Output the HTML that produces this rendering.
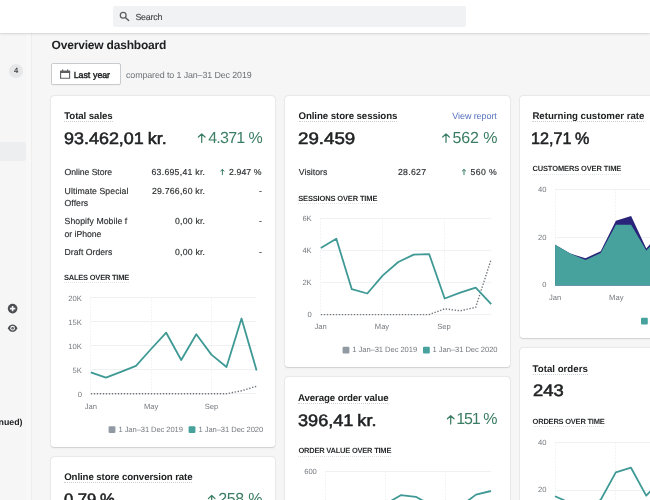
<!DOCTYPE html>
<html><head><meta charset="utf-8"><title>Overview dashboard</title>
<style>
html,body{margin:0;padding:0}
body{width:650px;height:500px;overflow:hidden;position:relative;background:#f6f6f7;font-family:"Liberation Sans",sans-serif;color:#202223}
.top{position:absolute;left:0;top:0;width:650px;height:33px;background:#fff;box-shadow:0 0 0 .5px rgba(63,63,68,.06),0 .5px 2px rgba(63,63,68,.16)}
.search{position:absolute;left:113px;top:5.5px;width:352.5px;height:21px;background:#f1f2f3;border-radius:2px}
.side{position:absolute;left:0;top:33px;width:31px;height:467px;background:#f6f6f7;border-right:1px solid #eeeeef}
.sel{position:absolute;left:0;top:108.6px;width:25.6px;height:19px;background:#edeeef;border-radius:0 2px 2px 0}
.bdg{position:absolute;left:9.2px;top:64.3px;width:14.2px;height:14px;border-radius:7.1px;background:#e6e7e8}
.card{position:absolute;background:#fff;border-radius:3px;box-shadow:0 0 0 .5px rgba(63,63,68,.07),0 .5px 1.5px rgba(63,63,68,.18)}
.button{position:absolute;left:51.2px;top:63.4px;width:68px;height:19.3px;background:#fff;border:1px solid #c9cccf;border-radius:2px;box-shadow:0 .5px 0 rgba(0,0,0,.06)}
svg{position:absolute;left:0;top:0}
.txt{position:absolute;left:0;top:0;width:650px;height:500px;will-change:transform}
.t{position:absolute;white-space:nowrap;line-height:14px;text-rendering:geometricPrecision}
.srch{font-size:8.9px;font-weight:400;word-spacing:0px;color:#45484b;-webkit-text-stroke:.15px #45484b}
.title{font-size:12.0px;font-weight:700;word-spacing:0px}
.btn{font-size:8.9px;font-weight:400;word-spacing:0.7px;-webkit-text-stroke:.4px #202223}
.cmp{font-size:8.9px;font-weight:400;word-spacing:0px;color:#6d7175}
.nav{font-size:8.8px;font-weight:700;word-spacing:0px;color:#202223}
.badge{font-size:7.6px;font-weight:700;word-spacing:0px;color:#44474a}
.h{font-size:9.7px;font-weight:700;word-spacing:0px}
.h:after{content:"";position:absolute;left:0;right:0;top:11.5px;border-bottom:.6px dotted #cdd0d3}
.big{font-size:16.6px;font-weight:400;word-spacing:-1px;-webkit-text-stroke:.55px #202223}
.pct{font-size:16.0px;font-weight:400;word-spacing:0.3px;color:#3b7d64}
.r{font-size:8.7px;font-weight:400;word-spacing:0px;color:#2c2e30;-webkit-text-stroke:.15px #2c2e30}
.cap{font-size:7.5px;font-weight:700;word-spacing:0px;color:#2a2c2e}
.cap:after{content:"";position:absolute;left:0;right:0;top:11.6px;border-bottom:.5px dotted #e2e4e6}
.ax{font-size:7.6px;font-weight:400;word-spacing:0px;color:#74797e}
.link{font-size:9.0px;font-weight:400;word-spacing:0px;color:#5570bf}
</style></head>
<body>
<div class="side"><div class="sel"></div><div style="position:absolute;left:25.6px;top:0;width:5.4px;height:467px;background:#f8f8f9"></div></div>
<div class="bdg"></div>
<div class="top"><div class="search"></div></div>
<div class="button"></div>
<div class="card" style="left:51.4px;top:95.5px;width:224px;height:351px"></div>
<div class="card" style="left:285.4px;top:95.5px;width:225px;height:271.6px"></div>
<div class="card" style="left:520.2px;top:95.5px;width:140px;height:242.4px"></div>
<div class="card" style="left:285.4px;top:376.8px;width:225px;height:140px"></div>
<div class="card" style="left:520.2px;top:347.5px;width:140px;height:170px"></div>
<div class="card" style="left:51.4px;top:456.6px;width:224px;height:60px"></div>
<svg width="650" height="500" viewBox="0 0 650 500">
<line x1="90.8" y1="297.5" x2="256.6" y2="297.5" stroke="#f0f1f2" stroke-width="1"/>
<line x1="90.8" y1="321.5" x2="256.6" y2="321.5" stroke="#f0f1f2" stroke-width="1"/>
<line x1="90.8" y1="345.5" x2="256.6" y2="345.5" stroke="#f0f1f2" stroke-width="1"/>
<line x1="90.8" y1="369.5" x2="256.6" y2="369.5" stroke="#f0f1f2" stroke-width="1"/>
<line x1="90.8" y1="393.5" x2="256.6" y2="393.5" stroke="#f0f1f2" stroke-width="1"/>
<line x1="90.5" y1="297.5" x2="90.5" y2="393.5" stroke="#f0f1f2" stroke-width="1" stroke-dasharray="1.5 1.5"/>
<line x1="151.5" y1="297.5" x2="151.5" y2="393.5" stroke="#f0f1f2" stroke-width="1" stroke-dasharray="1.5 1.5"/>
<line x1="211.5" y1="297.5" x2="211.5" y2="393.5" stroke="#f0f1f2" stroke-width="1" stroke-dasharray="1.5 1.5"/>
<polyline points="90.8,393.8 105.9,393.8 120.9,393.8 136.0,393.8 151.1,393.8 166.2,393.8 181.2,393.8 196.3,393.8 211.4,393.8 226.5,393.8 241.5,390.8 256.6,386.2" fill="none" stroke="#73787e" stroke-width="1.4" stroke-dasharray="1.4 1.6"/>
<polyline points="90.8,372.3 105.9,377.7 120.9,371.8 136.0,365.8 151.1,349.0 166.2,332.7 181.2,360.0 196.3,334.2 211.4,354.6 226.5,367.0 241.5,318.5 256.6,370.4" fill="none" stroke="#3f9995" stroke-width="1.8" stroke-linejoin="round" stroke-linecap="butt"/>
<line x1="320.8" y1="218.5" x2="491.2" y2="218.5" stroke="#f0f1f2" stroke-width="1"/>
<line x1="320.8" y1="250.5" x2="491.2" y2="250.5" stroke="#f0f1f2" stroke-width="1"/>
<line x1="320.8" y1="282.5" x2="491.2" y2="282.5" stroke="#f0f1f2" stroke-width="1"/>
<line x1="320.8" y1="314.5" x2="491.2" y2="314.5" stroke="#f0f1f2" stroke-width="1"/>
<line x1="320.5" y1="218.5" x2="320.5" y2="314.5" stroke="#f0f1f2" stroke-width="1" stroke-dasharray="1.5 1.5"/>
<line x1="382.5" y1="218.5" x2="382.5" y2="314.5" stroke="#f0f1f2" stroke-width="1" stroke-dasharray="1.5 1.5"/>
<line x1="444.5" y1="218.5" x2="444.5" y2="314.5" stroke="#f0f1f2" stroke-width="1" stroke-dasharray="1.5 1.5"/>
<polyline points="320.8,314.6 336.3,314.6 351.8,314.6 367.3,314.6 382.8,314.6 398.3,314.6 413.7,314.6 429.2,314.6 444.7,308.8 460.2,310.8 475.7,307.3 491.2,259.2" fill="none" stroke="#73787e" stroke-width="1.4" stroke-dasharray="1.4 1.6"/>
<polyline points="320.8,248.0 336.3,238.8 351.8,289.2 367.3,293.5 382.8,275.4 398.3,262.0 413.7,254.6 429.2,254.2 444.7,298.5 460.2,292.7 475.7,287.7 491.2,304.2" fill="none" stroke="#3f9995" stroke-width="1.8" stroke-linejoin="round" stroke-linecap="butt"/>
<line x1="555.1" y1="189.5" x2="660" y2="189.5" stroke="#f0f1f2" stroke-width="1"/>
<line x1="555.1" y1="237.5" x2="660" y2="237.5" stroke="#f0f1f2" stroke-width="1"/>
<line x1="555.1" y1="285.5" x2="660" y2="285.5" stroke="#f0f1f2" stroke-width="1"/>
<line x1="555.5" y1="189.5" x2="555.5" y2="285.5" stroke="#f0f1f2" stroke-width="1" stroke-dasharray="1.5 1.5"/>
<line x1="615.5" y1="189.5" x2="615.5" y2="285.5" stroke="#f0f1f2" stroke-width="1" stroke-dasharray="1.5 1.5"/>
<polygon points="555.1,244.7 570.3,253.6 585.5,258.2 600.7,251.2 615.9,220.8 631.1,216.0 646.3,248.4 661.5,231.0 661.5,285.5 555.1,285.5" fill="#29247a"/>
<polygon points="555.1,244.7 570.3,253.6 585.5,259.9 600.7,253.0 615.9,224.8 631.1,224.8 646.3,250.6 661.5,235.0 661.5,285.5 555.1,285.5" fill="#47a19d"/>
<line x1="325.6" y1="471.5" x2="491.0" y2="471.5" stroke="#f0f1f2" stroke-width="1"/>
<line x1="325.5" y1="471.5" x2="325.5" y2="520" stroke="#f0f1f2" stroke-width="1" stroke-dasharray="1.5 1.5"/>
<line x1="385.5" y1="471.5" x2="385.5" y2="520" stroke="#f0f1f2" stroke-width="1" stroke-dasharray="1.5 1.5"/>
<line x1="445.5" y1="471.5" x2="445.5" y2="520" stroke="#f0f1f2" stroke-width="1" stroke-dasharray="1.5 1.5"/>
<polyline points="325.6,520.0 340.6,520.0 355.7,520.0 370.7,520.0 385.7,504.0 400.8,495.2 415.8,496.8 430.9,505.0 445.9,520.0 460.9,506.0 476.0,494.6 491.0,491.0" fill="none" stroke="#3f9995" stroke-width="1.8" stroke-linejoin="round" stroke-linecap="butt"/>
<line x1="555.0" y1="442.5" x2="660" y2="442.5" stroke="#f0f1f2" stroke-width="1"/>
<line x1="555.0" y1="490.5" x2="660" y2="490.5" stroke="#f0f1f2" stroke-width="1"/>
<line x1="555.5" y1="442.5" x2="555.5" y2="520" stroke="#f0f1f2" stroke-width="1" stroke-dasharray="1.5 1.5"/>
<line x1="615.5" y1="442.5" x2="615.5" y2="520" stroke="#f0f1f2" stroke-width="1" stroke-dasharray="1.5 1.5"/>
<polyline points="555.0,496.2 570.2,503.0 585.4,506.0 600.6,500.0 615.8,472.4 631.0,467.7 646.2,495.6 661.4,480.0" fill="none" stroke="#3f9995" stroke-width="1.8" stroke-linejoin="round" stroke-linecap="butt"/>
<path d="M201.70 142.30V134.00M198.40 137.00L201.70 133.90L205.00 137.00" fill="none" stroke="#3b7d64" stroke-width="1.25" stroke-linecap="round" stroke-linejoin="round"/>
<path d="M446.00 142.30V134.00M442.70 137.00L446.00 133.90L449.30 137.00" fill="none" stroke="#3b7d64" stroke-width="1.25" stroke-linecap="round" stroke-linejoin="round"/>
<path d="M450.70 424.10V415.80M447.40 418.80L450.70 415.70L454.00 418.80" fill="none" stroke="#3b7d64" stroke-width="1.25" stroke-linecap="round" stroke-linejoin="round"/>
<path d="M211.70 503.90V495.60M208.40 498.60L211.70 495.50L215.00 498.60" fill="none" stroke="#3b7d64" stroke-width="1.25" stroke-linecap="round" stroke-linejoin="round"/>
<path d="M222.40 174.70V169.60M220.70 171.00L222.40 169.50L224.10 171.00" fill="none" stroke="#3b7d64" stroke-width="1.0" stroke-linecap="round" stroke-linejoin="round"/>
<path d="M464.00 174.70V169.60M462.30 171.00L464.00 169.50L465.70 171.00" fill="none" stroke="#3b7d64" stroke-width="1.0" stroke-linecap="round" stroke-linejoin="round"/>
<rect x="108.6" y="426.3" width="6.8" height="6.8" rx="1" fill="#919aa3"/>
<rect x="188.6" y="426.3" width="6.8" height="6.8" rx="1" fill="#47a19d"/>
<rect x="342.6" y="346.8" width="6.8" height="6.8" rx="1" fill="#919aa3"/>
<rect x="423.0" y="346.8" width="6.8" height="6.8" rx="1" fill="#47a19d"/>
<rect x="641.0" y="317.8" width="6.8" height="6.8" rx="1" fill="#47a19d"/>
<circle cx="123.2" cy="15.2" r="2.9" fill="none" stroke="#5c5f62" stroke-width="1.25"/><path d="M125.4 17.4L128.6 20.6" stroke="#5c5f62" stroke-width="1.45" stroke-linecap="round"/>
<path d="M60.6 71.2h9v7h-9z" fill="none" stroke="#5c5f62" stroke-width="1.1"/><path d="M60.1 70.7h10v2.2h-10zM62 69.6h1.2v2h-1.2zM67 69.6h1.2v2h-1.2z" fill="#5c5f62"/>
<circle cx="12.6" cy="308.6" r="4.8" fill="#4a4d50"/><path d="M9.9 308.6h5.4M12.6 305.9v5.4" stroke="#f6f6f7" stroke-width="1.6"/>
<path d="M7.7 328.2C9.4 325.3 11 324.6 12.6 324.6C14.2 324.6 15.8 325.3 17.5 328.2C15.8 331.1 14.2 331.8 12.6 331.8C11 331.8 9.4 331.1 7.7 328.2Z" fill="#4a4d50"/><circle cx="12.6" cy="328.2" r="2.35" fill="#f6f6f7"/><circle cx="12.6" cy="328.2" r="1.25" fill="#4a4d50"/><circle cx="12.6" cy="328.2" r=".4" fill="#f6f6f7"/>
</svg>
<div class="txt">
<div class="t srch" style="left:135.40px;letter-spacing:-0.217px;top:9.6px;">Search</div>
<div class="t title" style="left:51.60px;letter-spacing:-0.195px;top:38.2px;">Overview dashboard</div>
<div class="t btn" style="left:73.80px;letter-spacing:-0.131px;top:67.6px;">Last year</div>
<div class="t cmp" style="left:126.00px;letter-spacing:-0.112px;top:67.6px;">compared to 1 Jan–31 Dec 2019</div>
<div class="t nav" style="right:627.47px;top:414.5px;">nued)</div>
<div class="t badge" style="left:9.2px;top:63.6px;width:14px;text-align:center;">4</div>
<div class="t h" style="left:64.20px;letter-spacing:-0.087px;top:109.5px;">Total sales</div>
<div class="t big" style="left:64.00px;letter-spacing:0.000px;transform:scaleX(1.0812);transform-origin:0 50%;top:131.8px;">93.462,01 kr.</div>
<div class="t pct" style="left:208.20px;letter-spacing:-0.764px;top:131.6px;">4.371 %</div>
<div class="t r" style="left:64.60px;letter-spacing:-0.069px;top:165.0px;">Online Store</div>
<div class="t r" style="left:151.50px;letter-spacing:0.273px;top:165.0px;">63.695,41 kr.</div>
<div class="t r" style="left:229.10px;letter-spacing:0.091px;top:165.0px;">2.947 %</div>
<div class="t r" style="left:64.60px;letter-spacing:0.071px;top:183.8px;">Ultimate Special</div>
<div class="t r" style="left:64.60px;letter-spacing:0.010px;top:196.0px;">Offers</div>
<div class="t r" style="left:151.90px;letter-spacing:0.240px;top:183.8px;">29.766,60 kr.</div>
<div class="t r" style="left:64.60px;letter-spacing:0.054px;top:214.0px;">Shopify Mobile f</div>
<div class="t r" style="left:64.60px;letter-spacing:-0.057px;top:226.5px;">or iPhone</div>
<div class="t r" style="left:175.00px;letter-spacing:0.217px;top:214.0px;">0,00 kr.</div>
<div class="t r" style="left:64.60px;letter-spacing:-0.004px;top:244.5px;">Draft Orders</div>
<div class="t r" style="left:175.00px;letter-spacing:0.217px;top:244.5px;">0,00 kr.</div>
<div class="t r" style="right:388.11px;top:183.8px;">-</div>
<div class="t r" style="right:388.11px;top:214.0px;">-</div>
<div class="t r" style="right:388.11px;top:244.5px;">-</div>
<div class="t cap" style="left:64.00px;letter-spacing:-0.224px;top:270.9px;">SALES OVER TIME</div>
<div class="t ax" style="right:568.14px;top:291.5px;">20K</div>
<div class="t ax" style="right:568.14px;top:315.5px;">15K</div>
<div class="t ax" style="right:568.14px;top:339.5px;">10K</div>
<div class="t ax" style="right:568.14px;top:363.5px;">5K</div>
<div class="t ax" style="right:567.98px;top:387.5px;">0</div>
<div class="t ax" style="left:75.9px;top:399.6px;width:30px;text-align:center;">Jan</div>
<div class="t ax" style="left:136.2px;top:399.6px;width:30px;text-align:center;">May</div>
<div class="t ax" style="left:196.4px;top:399.6px;width:30px;text-align:center;">Sep</div>
<div class="t ax" style="left:118.50px;letter-spacing:-0.090px;top:422.7px;">1 Jan–31 Dec 2019</div>
<div class="t ax" style="left:198.50px;letter-spacing:-0.071px;top:422.7px;">1 Jan–31 Dec 2020</div>
<div class="t h" style="left:298.50px;letter-spacing:-0.090px;top:109.5px;">Online store sessions</div>
<div class="t link" style="left:452.30px;letter-spacing:-0.086px;top:109.0px;">View report</div>
<div class="t big" style="left:298.00px;letter-spacing:-0.000px;transform:scaleX(1.1282);transform-origin:0 50%;top:131.8px;">29.459</div>
<div class="t pct" style="left:452.50px;letter-spacing:-0.160px;top:131.6px;">562 %</div>
<div class="t r" style="left:298.80px;letter-spacing:0.032px;top:165.0px;">Visitors</div>
<div class="t r" style="left:398.00px;letter-spacing:0.292px;top:165.0px;">28.627</div>
<div class="t r" style="left:470.40px;letter-spacing:0.423px;top:165.0px;">560 %</div>
<div class="t cap" style="left:298.20px;letter-spacing:-0.146px;top:191.5px;">SESSIONS OVER TIME</div>
<div class="t ax" style="right:338.34px;top:212.0px;">6K</div>
<div class="t ax" style="right:338.34px;top:244.0px;">4K</div>
<div class="t ax" style="right:338.34px;top:276.0px;">2K</div>
<div class="t ax" style="right:338.18px;top:308.0px;">0</div>
<div class="t ax" style="left:305.6px;top:320.2px;width:30px;text-align:center;">Jan</div>
<div class="t ax" style="left:367.0px;top:320.2px;width:30px;text-align:center;">May</div>
<div class="t ax" style="left:429.0px;top:320.2px;width:30px;text-align:center;">Sep</div>
<div class="t ax" style="left:352.30px;letter-spacing:-0.065px;top:343.2px;">1 Jan–31 Dec 2019</div>
<div class="t ax" style="left:432.60px;letter-spacing:-0.059px;top:343.2px;">1 Jan–31 Dec 2020</div>
<div class="t h" style="left:532.40px;letter-spacing:-0.023px;top:109.5px;">Returning customer rate</div>
<div class="t big" style="left:531.43px;letter-spacing:0.000px;transform:scaleX(0.9740);transform-origin:0 50%;top:131.6px;">12,71 %</div>
<div class="t cap" style="left:532.40px;letter-spacing:-0.123px;top:162.2px;">CUSTOMERS OVER TIME</div>
<div class="t ax" style="right:103.58px;top:182.8px;">40</div>
<div class="t ax" style="right:103.58px;top:230.5px;">20</div>
<div class="t ax" style="right:103.58px;top:278.4px;">0</div>
<div class="t ax" style="left:540.0px;top:291.0px;width:30px;text-align:center;">Jan</div>
<div class="t ax" style="left:601.3px;top:291.0px;width:30px;text-align:center;">May</div>
<div class="t h" style="left:298.10px;letter-spacing:-0.128px;top:391.5px;">Average order value</div>
<div class="t big" style="left:298.00px;letter-spacing:0.000px;transform:scaleX(1.0916);transform-origin:0 50%;top:413.6px;">396,41 kr.</div>
<div class="t pct" style="left:456.20px;letter-spacing:-1.085px;top:413.4px;">151 %</div>
<div class="t cap" style="left:298.40px;letter-spacing:-0.218px;top:444.3px;">ORDER VALUE OVER TIME</div>
<div class="t ax" style="right:333.18px;top:464.6px;">600</div>
<div class="t h" style="left:532.60px;letter-spacing:-0.007px;top:362.9px;">Total orders</div>
<div class="t big" style="left:532.60px;letter-spacing:0.000px;transform:scaleX(1.1072);transform-origin:0 50%;top:384.3px;">243</div>
<div class="t cap" style="left:532.60px;letter-spacing:-0.221px;top:414.9px;">ORDERS OVER TIME</div>
<div class="t ax" style="right:103.58px;top:436.0px;">40</div>
<div class="t ax" style="right:103.58px;top:483.4px;">20</div>
<div class="t h" style="left:64.20px;letter-spacing:-0.110px;top:470.9px;">Online store conversion rate</div>
<div class="t big" style="left:64.00px;letter-spacing:0.000px;transform:scaleX(1.0018);transform-origin:0 50%;top:493.4px;">0,79 %</div>
<div class="t pct" style="left:218.20px;letter-spacing:-0.335px;top:493.2px;">258 %</div>
</div>
</body></html>
